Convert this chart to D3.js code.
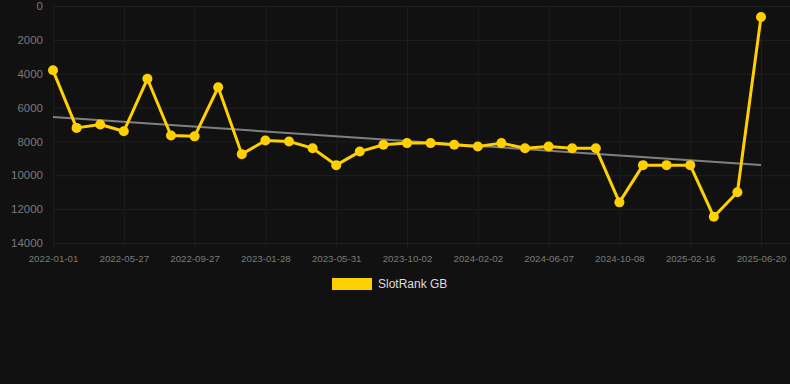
<!DOCTYPE html>
<html><head><meta charset="utf-8">
<script src="https://cdn.jsdelivr.net/npm/d3@7"></script>
<style>
html,body{margin:0;padding:0;background:#111111;}
svg{display:block;}
text{font-family:"Liberation Sans",Arial,sans-serif;}
</style></head>
<body>
<svg id="chart" width="790" height="384"></svg>
<script>
// Categories (x positions are evenly spaced categories; only every third is labelled)
const categories = [
  "2022-01-01","2022-02-18","2022-04-08","2022-05-27","2022-07-07","2022-08-17",
  "2022-09-27","2022-11-07","2022-12-18","2023-01-28","2023-03-11","2023-04-20",
  "2023-05-31","2023-07-11","2023-08-22","2023-10-02","2023-11-11","2023-12-23",
  "2024-02-02","2024-03-15","2024-04-26","2024-06-07","2024-07-18","2024-08-28",
  "2024-10-08","2024-11-20","2025-01-03","2025-02-16","2025-03-29","2025-05-09",
  "2025-06-20"
];
const tickLabels = ["2022-01-01","2022-05-27","2022-09-27","2023-01-28","2023-05-31",
  "2023-10-02","2024-02-02","2024-06-07","2024-10-08","2025-02-16","2025-06-20"];
const slotRankGB = [3800,7200,7000,7400,4300,7650,7700,4800,8750,7950,8000,8400,9400,8600,
  8200,8100,8100,8200,8300,8100,8400,8300,8400,8400,11600,9400,9400,9400,12450,11000,650];
const yTicks = [0,2000,4000,6000,8000,10000,12000,14000];
const seriesName = "SlotRank GB";

(function () {
const svg = d3.select("#chart");
const pLeft = 53, pRight = 761, gridRight = 790, pTop = 6, pBottom = 243;
const color = "#ffd000";

const x = d3.scalePoint().domain(categories).range([pLeft, pRight]);
const y = d3.scaleLinear().domain([0, 14000]).range([pTop, pBottom]);

// horizontal grid
const yAxis = d3.axisLeft(y).tickValues(yTicks).tickFormat(d3.format("d"))
  .tickSize(-(gridRight - pLeft)).tickPadding(10);
const gy = svg.append("g").attr("transform", `translate(${pLeft},0)`).call(yAxis);
gy.select(".domain").remove();
gy.selectAll(".tick line").attr("stroke", "#202020").attr("stroke-width", 1);
gy.selectAll(".tick text").attr("fill", "#7a7a7a").style("font-size", "11.5px");

// vertical grid + x labels
const xAxis = d3.axisBottom(x).tickValues(tickLabels)
  .tickSize(-(pBottom - pTop)).tickPadding(12);
const gx = svg.append("g").attr("transform", `translate(0,${pBottom})`).call(xAxis);
gx.select(".domain").remove();
gx.selectAll(".tick line").attr("stroke", "#1d1d1d").attr("y2", 6).attr("y1", -(pBottom - pTop));
gx.selectAll(".tick text").attr("fill", "#7a7a7a").style("font-size", "9.7px");

// trend line (linear regression)
const idx = slotRankGB.map((v, i) => i);
const n = slotRankGB.length;
const mx = d3.mean(idx), my = d3.mean(slotRankGB);
const slope = d3.sum(idx, i => (i - mx) * (slotRankGB[i] - my)) / d3.sum(idx, i => (i - mx) ** 2);
const icpt = my - slope * mx;
svg.append("line")
  .attr("x1", x(categories[0])).attr("y1", y(icpt))
  .attr("x2", x(categories[n - 1])).attr("y2", y(icpt + slope * (n - 1)))
  .attr("stroke", "#808080").attr("stroke-width", 2);

// series line
const line = d3.line().x((d, i) => x(categories[i])).y(d => y(d));
svg.append("path").datum(slotRankGB).attr("d", line)
  .attr("fill", "none").attr("stroke", color).attr("stroke-width", 3)
  .attr("stroke-linejoin", "round");
svg.selectAll("circle.pt").data(slotRankGB).join("circle").attr("class", "pt")
  .attr("cx", (d, i) => x(categories[i])).attr("cy", d => y(d)).attr("r", 5)
  .attr("fill", color);

// legend
const lg = svg.append("g");
lg.append("rect").attr("x", 332).attr("y", 278).attr("width", 40).attr("height", 12).attr("fill", color);
lg.append("text").attr("x", 378).attr("y", 284).attr("dy", "0.35em")
  .attr("fill", "#dddddd").style("font-size", "12px").text(seriesName);
})();
</script>
</body></html>
